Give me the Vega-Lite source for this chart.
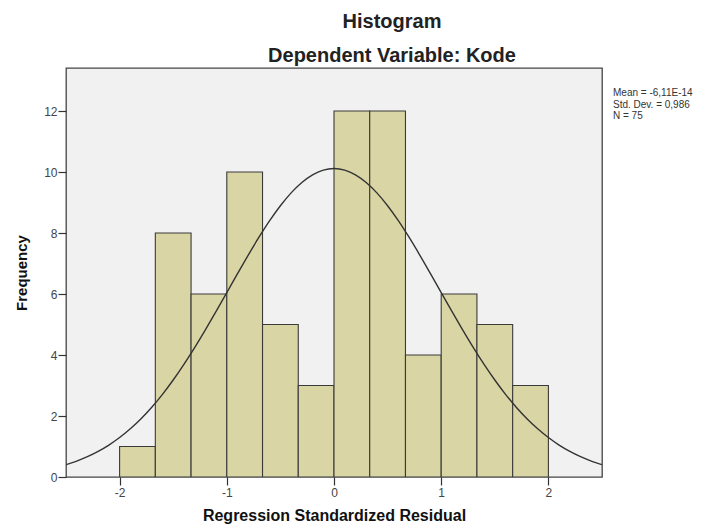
{
  "$schema": "https://vega.github.io/schema/vega-lite/v6.json",
  "autosize": "none",
  "padding": {"left": 66, "top": 68, "right": 122, "bottom": 51},
  "width": 536,
  "height": 409,
  "background": "#ffffff",
  "config": {
    "font": "Liberation Sans",
    "view": {"fill": "#f1f1f1", "stroke": "#444444", "strokeWidth": 1.3}
  },
  "title": {
    "text": "Histogram",
    "subtitle": "Dependent Variable: Kode",
    "anchor": "middle",
    "dx": 58,
    "font": "Liberation Sans",
    "fontSize": 20,
    "fontWeight": "bold",
    "color": "#222222",
    "subtitleFont": "Liberation Sans",
    "subtitleFontSize": 20,
    "subtitleFontWeight": "bold",
    "subtitleColor": "#222222",
    "subtitlePadding": 14,
    "offset": 2
  },
  "datasets": {
    "bins": [
      {"lo": -2.0, "hi": -1.6667, "count": 1},
      {"lo": -1.6667, "hi": -1.3333, "count": 8},
      {"lo": -1.3333, "hi": -1.0, "count": 6},
      {"lo": -1.0, "hi": -0.6667, "count": 10},
      {"lo": -0.6667, "hi": -0.3333, "count": 5},
      {"lo": -0.3333, "hi": 0.0, "count": 3},
      {"lo": 0.0, "hi": 0.3333, "count": 12},
      {"lo": 0.3333, "hi": 0.6667, "count": 12},
      {"lo": 0.6667, "hi": 1.0, "count": 4},
      {"lo": 1.0, "hi": 1.3333, "count": 6},
      {"lo": 1.3333, "hi": 1.6667, "count": 5},
      {"lo": 1.6667, "hi": 2.0, "count": 3}
    ],
    "curve": [
      {"x": -2.5, "y": 0.406}, {"x": -2.4, "y": 0.523}, {"x": -2.3, "y": 0.666}, {"x": -2.2, "y": 0.839},
      {"x": -2.1, "y": 1.047}, {"x": -2.0, "y": 1.293}, {"x": -1.9, "y": 1.58}, {"x": -1.8, "y": 1.911},
      {"x": -1.7, "y": 2.288}, {"x": -1.6, "y": 2.711}, {"x": -1.5, "y": 3.18}, {"x": -1.4, "y": 3.691},
      {"x": -1.3, "y": 4.241}, {"x": -1.2, "y": 4.823}, {"x": -1.1, "y": 5.428}, {"x": -1.0, "y": 6.047},
      {"x": -0.9, "y": 6.668}, {"x": -0.8, "y": 7.277}, {"x": -0.7, "y": 7.861}, {"x": -0.6, "y": 8.405},
      {"x": -0.5, "y": 8.894}, {"x": -0.4, "y": 9.315}, {"x": -0.3, "y": 9.657}, {"x": -0.2, "y": 9.908},
      {"x": -0.1, "y": 10.062}, {"x": 0.0, "y": 10.114}, {"x": 0.1, "y": 10.062}, {"x": 0.2, "y": 9.908},
      {"x": 0.3, "y": 9.657}, {"x": 0.4, "y": 9.315}, {"x": 0.5, "y": 8.894}, {"x": 0.6, "y": 8.405},
      {"x": 0.7, "y": 7.861}, {"x": 0.8, "y": 7.277}, {"x": 0.9, "y": 6.668}, {"x": 1.0, "y": 6.047},
      {"x": 1.1, "y": 5.428}, {"x": 1.2, "y": 4.823}, {"x": 1.3, "y": 4.241}, {"x": 1.4, "y": 3.691},
      {"x": 1.5, "y": 3.18}, {"x": 1.6, "y": 2.711}, {"x": 1.7, "y": 2.288}, {"x": 1.8, "y": 1.911},
      {"x": 1.9, "y": 1.58}, {"x": 2.0, "y": 1.293}, {"x": 2.1, "y": 1.047}, {"x": 2.2, "y": 0.839},
      {"x": 2.3, "y": 0.666}, {"x": 2.4, "y": 0.523}, {"x": 2.5, "y": 0.406}
    ],
    "stats": [
      {"x": 2.5, "y": 12.75, "label": ["Mean = -6,11E-14", "Std. Dev. = 0,986", "N = 75"]}
    ]
  },
  "layer": [
    {
      "data": {"name": "bins"},
      "mark": {"type": "rect", "fill": "#d9d5a5", "stroke": "#3a3a3a", "strokeWidth": 1.1, "clip": true},
      "encoding": {
        "x": {
          "field": "lo", "type": "quantitative",
          "scale": {"domain": [-2.5, 2.5], "nice": false, "zero": false},
          "axis": {
            "values": [-2, -1, 0, 1, 2],
            "labelExpr": "datum.value + ''",
            "title": "Regression Standardized Residual",
            "titleFont": "Liberation Sans", "titleFontSize": 16, "titleFontWeight": "bold",
            "titleColor": "#111111", "titlePadding": 9,
            "labelFont": "Liberation Sans", "labelFontSize": 12, "labelColor": "#444444",
            "labelPadding": 2,
            "tickColor": "#333333", "tickSize": 8, "tickWidth": 1.2, "domain": false, "grid": false
          }
        },
        "x2": {"field": "hi"},
        "y": {
          "field": "count", "type": "quantitative",
          "scale": {"domain": [0, 13.41], "nice": false},
          "axis": {
            "values": [0, 2, 4, 6, 8, 10, 12],
            "labelExpr": "datum.value + ''",
            "title": "Frequency",
            "titleFont": "Liberation Sans", "titleFontSize": 15, "titleFontWeight": "bold",
            "titleColor": "#111111", "titlePadding": 14,
            "labelFont": "Liberation Sans", "labelFontSize": 12, "labelColor": "#444444",
            "labelPadding": 1,
            "tickColor": "#333333", "tickSize": 8, "tickWidth": 1.2, "domain": false, "grid": false
          }
        },
        "y2": {"datum": 0}
      }
    },
    {
      "data": {"name": "curve"},
      "mark": {"type": "line", "color": "#333333", "strokeWidth": 1.4, "interpolate": "monotone", "clip": true},
      "encoding": {
        "x": {"field": "x", "type": "quantitative"},
        "y": {"field": "y", "type": "quantitative"}
      }
    },
    {
      "data": {"name": "stats"},
      "mark": {"type": "text", "align": "left", "baseline": "top", "dx": 11, "font": "Liberation Sans", "fontSize": 10, "color": "#333333", "lineHeight": 11.5},
      "encoding": {
        "x": {"field": "x", "type": "quantitative"},
        "y": {"field": "y", "type": "quantitative"},
        "text": {"field": "label"}
      }
    }
  ]
}
